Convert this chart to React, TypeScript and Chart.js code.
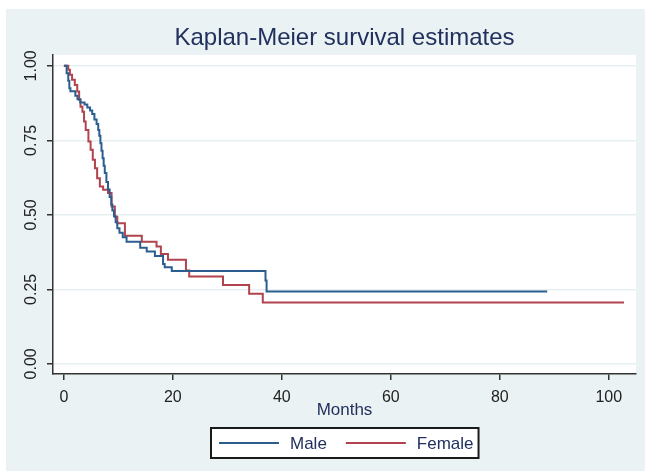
import React, { useEffect, useRef } from 'react';
import { Chart, registerables } from 'chart.js';

Chart.register(...registerables);

const TITLE = 'Kaplan-Meier survival estimates';
const X_LABEL = 'Months';
const SERIES_NAMES = ['Male', 'Female'];
const X_TICKS = [0, 20, 40, 60, 80, 100];
const Y_TICKS = [0, 0.25, 0.5, 0.75, 1];

const MALE_TIME = [0, 0.5, 0.8, 1.0, 1.2, 2.1, 2.5, 3.0, 3.8, 4.3, 4.8, 5.2, 5.6, 6.0, 6.3, 6.5, 6.7, 6.9, 7.1, 7.3, 7.5, 7.8, 8.1, 8.4, 8.7, 8.9, 9.2, 9.5, 9.8, 10.2, 10.8, 11.5, 14.0, 15.2, 16.7, 18.2, 18.5, 19.8, 37.0, 37.2, 88.7];
const MALE_SURV = [1.0, 0.975, 0.95, 0.925, 0.915, 0.9, 0.888, 0.877, 0.87, 0.86, 0.85, 0.838, 0.82, 0.805, 0.785, 0.765, 0.74, 0.715, 0.69, 0.665, 0.64, 0.61, 0.585, 0.56, 0.535, 0.515, 0.495, 0.475, 0.455, 0.44, 0.425, 0.41, 0.39, 0.377, 0.362, 0.335, 0.324, 0.312, 0.28, 0.243, 0.243];

const FEMALE_TIME = [0, 0.8, 1.1, 1.5, 2.0, 2.45, 2.8, 3.05, 3.4, 3.7, 4.0, 4.5, 4.9, 5.3, 5.7, 6.1, 6.6, 7.2, 8.1, 8.75, 9.35, 9.8, 11.2, 14.3, 17.0, 17.8, 19.1, 22.4, 23.0, 29.2, 34.0, 36.5, 102.8];
const FEMALE_SURV = [1.0, 0.987, 0.97, 0.953, 0.936, 0.914, 0.886, 0.863, 0.846, 0.813, 0.785, 0.746, 0.718, 0.685, 0.656, 0.623, 0.595, 0.584, 0.573, 0.528, 0.494, 0.472, 0.43, 0.41, 0.394, 0.369, 0.349, 0.313, 0.293, 0.265, 0.235, 0.206, 0.206];

const SERIES_COLORS = ['#2b5e8e', '#b0434d'];

const FONT = "'Liberation Sans', Arial, Helvetica, sans-serif";
const PANEL = '#eaf2f3';
const NAVY_TEXT = '#22305e';

const toPoints = (t: number[], s: number[]) => t.map((x, i) => ({ x, y: s[i] }));

export default function App() {
  const ref = useRef<HTMLCanvasElement>(null);

  useEffect(() => {
    document.body.style.margin = '0';
    const canvas = ref.current;
    if (!canvas) return;

    const bgPlugin = {
      id: 'stataBg',
      beforeDraw(chart: any) {
        const { ctx, width, height, chartArea } = chart;
        ctx.save();
        ctx.fillStyle = '#ffffff';
        ctx.fillRect(0, 0, width, height);
        ctx.fillStyle = PANEL;
        ctx.fillRect(6, 9, width - 6, height - 9);
        ctx.fillStyle = '#ffffff';
        ctx.fillRect(chartArea.left, chartArea.top, chartArea.right - chartArea.left, chartArea.bottom - chartArea.top);
        ctx.restore();
      },
    };

    const legendPlugin = {
      id: 'boxLegend',
      afterDraw(chart: any) {
        const { ctx, chartArea } = chart;
        const ds = chart.data.datasets;
        ctx.save();
        ctx.font = `17px ${FONT}`;
        const lineLen = 60;
        const gap = 11;
        const itemGap = 19;
        const padL = 8;
        const padR = 5;
        const widths = ds.map((d: any) => ctx.measureText(d.label).width);
        let total = 0;
        ds.forEach((_: any, i: number) => { total += lineLen + gap + widths[i]; });
        total += itemGap * (ds.length - 1);
        const boxW = total + padL + padR;
        const cx = (chartArea.left + chartArea.right) / 2;
        const boxX = Math.round(cx - boxW / 2);
        const boxY = chartArea.bottom + 54;
        const boxH = 30;
        ctx.fillStyle = '#ffffff';
        ctx.fillRect(boxX, boxY, boxW, boxH);
        ctx.strokeStyle = '#1a1a1a';
        ctx.lineWidth = 2;
        ctx.strokeRect(boxX, boxY, boxW, boxH);
        const cy = boxY + boxH / 2;
        let x = boxX + padL;
        ds.forEach((d: any, i: number) => {
          ctx.strokeStyle = d.borderColor;
          ctx.lineWidth = 2;
          ctx.beginPath();
          ctx.moveTo(x, cy);
          ctx.lineTo(x + lineLen, cy);
          ctx.stroke();
          x += lineLen + gap;
          ctx.fillStyle = NAVY_TEXT;
          ctx.textBaseline = 'middle';
          ctx.textAlign = 'left';
          ctx.fillText(d.label, x, cy + 1);
          x += widths[i] + itemGap;
        });
        ctx.restore();
      },
    };

    const chart = new Chart(canvas, {
      type: 'line',
      data: {
        datasets: [
          {
            label: SERIES_NAMES[0],
            data: toPoints(MALE_TIME, MALE_SURV),
            borderColor: SERIES_COLORS[0],
            backgroundColor: SERIES_COLORS[0],
            borderWidth: 2,
            pointRadius: 0,
            stepped: true,
            fill: false,
          },
          {
            label: SERIES_NAMES[1],
            data: toPoints(FEMALE_TIME, FEMALE_SURV),
            borderColor: SERIES_COLORS[1],
            backgroundColor: SERIES_COLORS[1],
            borderWidth: 2,
            pointRadius: 0,
            stepped: true,
            fill: false,
          },
        ],
      },
      options: {
        responsive: false,
        animation: false,
        devicePixelRatio: 1,
        layout: { padding: { top: 9, left: 6, right: 9, bottom: 50 } },
        plugins: {
          legend: { display: false },
          tooltip: { enabled: false },
          title: {
            display: true,
            text: TITLE,
            fullSize: false,
            color: NAVY_TEXT,
            font: { family: FONT, size: 24, weight: 'normal' },
            padding: { top: 15, bottom: 2 },
          },
        },
        scales: {
          x: {
            type: 'linear',
            min: -2,
            max: 105,
            afterBuildTicks: (s: any) => { s.ticks = X_TICKS.map((v) => ({ value: v })); },
            afterFit: (s: any) => { s.height = 47; },
            grid: { drawOnChartArea: false, tickLength: 6, tickColor: '#333333', lineWidth: 1.5 },
            border: { display: true, color: '#333333', width: 1.5 },
            ticks: {
              color: '#222222',
              font: { family: FONT, size: 16 },
              padding: 8,
              maxRotation: 0,
              minRotation: 0,
              callback: (v: any) => String(v),
            },
            title: {
              display: true,
              text: X_LABEL,
              color: NAVY_TEXT,
              font: { family: FONT, size: 17 },
              padding: { top: 0, bottom: 0 },
            },
          },
          y: {
            type: 'linear',
            min: -0.034,
            max: 1.037,
            afterBuildTicks: (s: any) => { s.ticks = Y_TICKS.map((v) => ({ value: v })); },
            afterFit: (s: any) => { s.width = 47; },
            grid: { color: '#e6eff1', lineWidth: 1.5, tickColor: '#333333', tickLength: 6 },
            border: { display: true, color: '#333333', width: 1.5 },
            ticks: {
              color: '#222222',
              font: { family: FONT, size: 16 },
              padding: 0,
              minRotation: 90,
              maxRotation: 90,
              crossAlign: 'center',
              callback: (v: any) => Number(v).toFixed(2),
            },
          },
        },
      } as any,
      plugins: [bgPlugin, legendPlugin],
    });

    return () => chart.destroy();
  }, []);

  return (
    <div style={{ width: 645, height: 471 }}>
      <canvas ref={ref} width={645} height={471} style={{ display: 'block' }} />
    </div>
  );
}
